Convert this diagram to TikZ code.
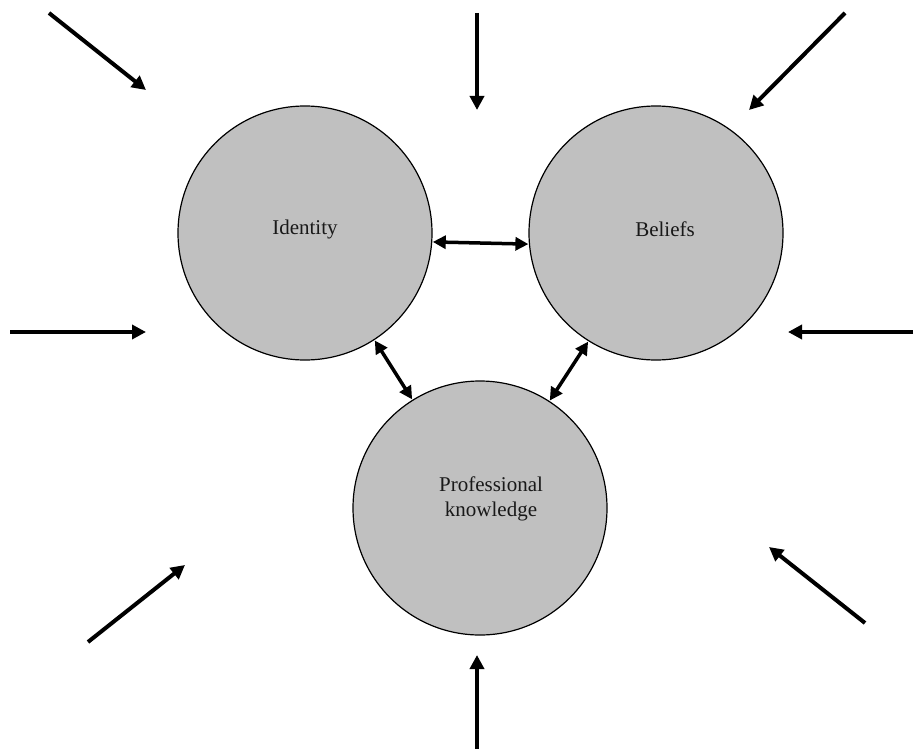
\documentclass[tikz,border=0pt]{standalone}
\usepackage{fontspec}
\setmainfont{Liberation Serif}
\usetikzlibrary{arrows.meta}
\definecolor{circfill}{HTML}{C0C0C0}
\tikzset{
  bubble/.style={circle, draw=black, line width=1.2pt, fill=circfill, minimum size=254pt, inner sep=0pt},
  lbl/.style={font=\fontsize{21}{25}\selectfont, align=center, text=black!90},
  inarrow/.style={line width=4pt, -{Triangle[length=14pt,width=14pt]}},
  dblarrow/.style={line width=3.5pt, {Triangle[length=13pt,width=13pt]}-{Triangle[length=13pt,width=13pt]}, shorten <=0.5pt, shorten >=0.5pt}
}
\begin{document}
\begin{tikzpicture}[x=1pt,y=-1pt]
\useasboundingbox (0,0) rectangle (915,749);
\node[bubble] (I) at (305,233) {};
\node[bubble] (B) at (656,233) {};
\node[bubble] (P) at (480,508) {};
\node[lbl] (It) at (305,229) {Identity};
\node[lbl] (Bt) at (665,229) {Beliefs};
\node[lbl] (Pt) at (491,499) {Professional\\knowledge};
% relations
\draw[dblarrow] (I.-4.5) -- (B.-175.5);
\draw[dblarrow] (I.-57.5) -- (P.122.5);
\draw[dblarrow] (B.-122.5) -- (P.57.5);
% outer influences
\coordinate (s1) at (49,13);   \coordinate (e1) at (146,90);
\coordinate (s2) at (477,13);  \coordinate (e2) at (477,110);
\coordinate (s3) at (845,13);  \coordinate (e3) at (749,110);
\coordinate (s4) at (10,332);  \coordinate (e4) at (146,332);
\coordinate (s5) at (913,332); \coordinate (e5) at (788,332);
\coordinate (s6) at (88,642);  \coordinate (e6) at (185,565);
\coordinate (s7) at (865,623); \coordinate (e7) at (769,547);
\coordinate (s8) at (477,749); \coordinate (e8) at (477,655);
\foreach \i in {1,...,8} { \draw[inarrow] (s\i) -- (e\i); }
\end{tikzpicture}
\end{document}
